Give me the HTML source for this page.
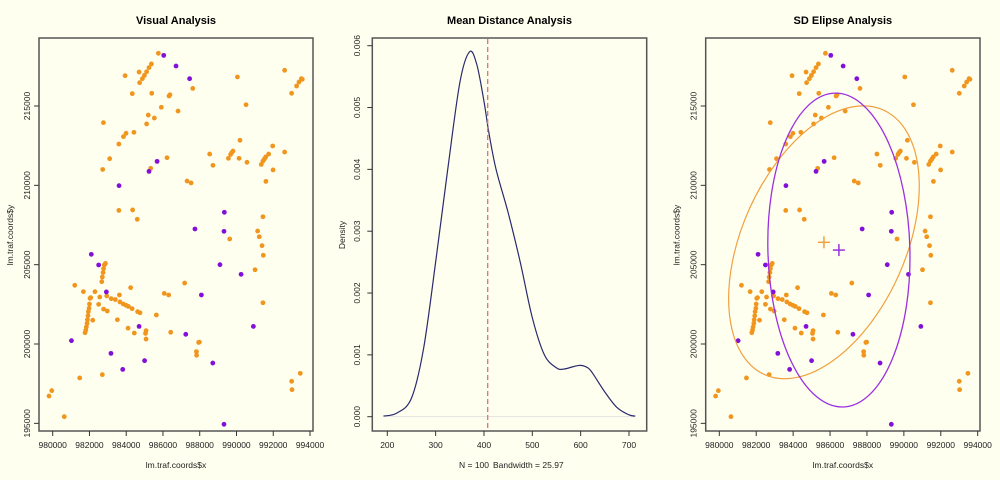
<!DOCTYPE html>
<html><head><meta charset="utf-8">
<style>
html,body{margin:0;padding:0;background:#fffff0;}
svg{display:block;font-family:"Liberation Sans",sans-serif;}
</style></head>
<body>
<svg id="chart" width="1000" height="480" viewBox="0 0 1000 480" xmlns="http://www.w3.org/2000/svg">
<rect x="0" y="0" width="1000" height="480" fill="#fffff0"/>
</svg>
<script>
// ---- data ----
const orangeX = [979.8,979.95,980.63,981.2,981.47,981.67,982.18,982.3,982.5,982.56,982.7,982.77,982.97,982.76,982.72,983.1,983.52,983.6,983.63,983.85,983.99,983.94,983.6,984.35,984.6,984.33,984.42,984.24,984.1,984.44,984.7,984.73,984.88,984.99,985.11,985.24,985.37,985.11,985.2,985.33,985.39,985.53,985.75,985.91,986.22,986.07,986.31,986.33,986.38,986.42,985.64,985.08,985.05,985.08,986.82,987.18,987.31,987.53,987.62,987.82,987.83,987.94,987.98,988.54,988.72,989.56,989.68,989.74,989.81,989.63,990.05,990.14,990.19,990.57,990.52,991.01,991.15,991.24,991.39,991.46,991.44,991.44,991.6,991.35,991.44,991.52,991.59,991.75,991.97,991.99,992.62,992.62,993.0,993.27,993.4,993.53,993.58,993.0,993.02,993.47,
982.94,983.18,983.41,983.66,983.84,983.99,984.12,984.32,984.62,984.75,
981.76,981.8,981.83,981.87,981.89,981.92,981.94,981.98,982.0,982.03,982.07,
982.67,982.7,982.74,982.77,982.81,982.87];
const orangeY = [196.72,197.06,195.42,203.7,197.86,203.3,201.5,203.3,202.5,202.96,198.07,202.2,202.08,213.95,211.0,211.68,201.53,212.6,203.09,213.07,213.28,216.91,208.42,208.45,207.86,215.78,213.34,203.55,201.0,200.69,217.14,216.47,216.72,216.93,217.16,217.42,217.65,213.87,214.43,211.07,215.8,214.24,218.32,214.92,211.74,203.19,203.09,215.63,215.71,200.74,201.83,200.84,200.67,200.31,214.68,203.84,210.27,210.15,216.11,199.52,199.29,200.1,200.12,211.97,211.26,211.7,211.95,212.06,212.16,206.62,216.83,211.7,212.84,211.45,215.08,204.68,207.12,206.76,206.2,205.59,208.02,202.6,210.25,211.32,211.53,211.66,211.79,211.97,212.48,210.97,217.25,212.1,215.8,216.26,216.51,216.72,216.68,197.65,197.12,198.15,
203.03,202.86,202.8,202.65,202.52,202.44,202.37,202.23,202.04,201.97,
200.71,200.88,201.07,201.3,201.53,201.78,202.04,202.25,202.52,202.88,202.92,
203.93,204.22,204.5,204.75,204.98,205.08];
const purpleX = [986.04,986.71,987.45,985.68,985.24,983.61,982.1,982.5,982.92,981.02,983.17,983.81,984.7,985.0,987.24,987.74,988.09,988.71,989.34,989.32,989.1,990.25,990.92,989.32];
const purpleY = [218.19,217.52,216.72,211.51,210.88,209.98,205.65,204.98,203.28,200.21,199.41,198.4,201.11,198.95,200.61,207.25,203.09,198.8,208.3,207.1,205.0,204.39,201.11,194.94];
const xTicks = [980000,982000,984000,986000,988000,990000,992000,994000];
const yTicks = [195000,200000,205000,210000,215000];
const densX = [192,220,250,275,300,325,350,370,385,400,410,425,450,475,500,525,550,565,585,600,615,625,650,675,700,713];
const densY = [0.00001,0.00006,0.0003,0.0011,0.0025,0.0040,0.0054,0.0059,0.0057,0.0051,0.0046,0.0040,0.0033,0.0025,0.0016,0.0010,0.00079,0.00077,0.00081,0.00083,0.00079,0.0007,0.0004,0.00015,0.00003,0.00001];
const densXTicks = [200,300,400,500,600,700];
const densYTicks = [0,0.001,0.002,0.003,0.004,0.005,0.006];
const meanDist = [407.7];
const centerOrange = [985670,206410];
const centerPurple = [986480,205920];

const NS="http://www.w3.org/2000/svg";
const svg=document.getElementById('chart');
function mk(tag,attrs,parent){const e=document.createElementNS(NS,tag);for(const k in attrs)e.setAttribute(k,attrs[k]);(parent||svg).appendChild(e);return e;}
function txt(s,attrs,parent){const t=mk('text',attrs,parent);t.textContent=s;return t;}

function scatterPanel(name,box,x0,xk,title,withEllipse){
  const g=mk('g',{});
  
  
  const sx=v=>x0+(v-980000)*xk;
  const sy=v=>106+(215000-v)*0.015867;
  const t=txt(title,{x:(box[0]+box[1])/2,y:24,'text-anchor':'middle','font-size':'11','font-weight':'bold',fill:'#000'},g);
  
  
  const fr=mk('rect',{x:box[0],y:38,width:box[1]-box[0],height:393,fill:'none',stroke:'#555','stroke-width':'1.5'},g);
  
  
  xTicks.forEach(v=>{const px=sx(v);mk('line',{x1:px,x2:px,y1:431,y2:436,stroke:'#333'},g);
    const l=txt(String(v),{x:px,y:448,'text-anchor':'middle','font-size':'8.5',fill:'#222'},g);
    
    });
  yTicks.forEach(v=>{const py=sy(v);mk('line',{x1:box[0],x2:box[0]-5,y1:py,y2:py,stroke:'#333'},g);
    const l=txt(String(v),{x:0,y:0,'text-anchor':'middle','font-size':'8.5',fill:'#222',transform:`translate(${box[0]-9},${py}) rotate(-90)`},g);
    
    });
  const xl=txt('lm.traf.coords$x',{x:(box[0]+box[1])/2,y:468,'text-anchor':'middle','font-size':'8.5',fill:'#222'},g);
  
  
  const yl=txt('lm.traf.coords$y',{x:0,y:0,'text-anchor':'middle','font-size':'8.5',fill:'#222',transform:`translate(${box[0]-26},235) rotate(-90)`},g);
  
  
  orangeX.forEach((v,i)=>{const c=mk('circle',{cx:sx(v*1000),cy:sy(orangeY[i]*1000),r:2.4,fill:'#f0961e'},g);
    
    });
  purpleX.forEach((v,i)=>{const c=mk('circle',{cx:sx(v*1000),cy:sy(purpleY[i]*1000),r:2.4,fill:'#8210d8'},g);
    
    });
  if(withEllipse){
    const ox=sx(centerOrange[0]),oy=sy(centerOrange[1]);
    const px=sx(centerPurple[0]),py=sy(centerPurple[1]);
    const e1=mk('ellipse',{cx:0,cy:0,rx:145,ry:81.7,fill:'none',stroke:'#f0a040','stroke-width':'1.2',transform:`translate(${ox},${oy}) rotate(-65.8)`},g);
    
    
    const e2=mk('ellipse',{cx:0,cy:0,rx:71,ry:157,fill:'none',stroke:'#9a30e0','stroke-width':'1.3',transform:`translate(${px},${py}) rotate(-1.5)`},g);
    
    
    [[ox,oy,'#f0a040','orange-center-cross'],[px,py,'#9a30e0','purple-center-cross']].forEach(c=>{
      const cg=mk('g',{stroke:c[2],'stroke-width':'1.5'},g);
      
      
      mk('line',{x1:c[0]-6,x2:c[0]+6,y1:c[1],y2:c[1]},cg);
      mk('line',{x1:c[0],x2:c[0],y1:c[1]-6,y2:c[1]+6},cg);});
  }
}
scatterPanel('visual-analysis-panel',[39,313],52.7,0.018379,'Visual Analysis',false);
scatterPanel('sd-ellipse-panel',[705.7,980],719.3,0.018457,'SD Elipse Analysis',true);

// density panel
(function(){
  const g=mk('g',{});
  
  
  const sx=v=>387.3+(v-200)*0.4834;
  const sy=v=>416.7-v*61833;
  const t=txt('Mean Distance Analysis',{x:509.5,y:24,'text-anchor':'middle','font-size':'11','font-weight':'bold',fill:'#000'},g);
  
  
  const fr=mk('rect',{x:372.3,y:38,width:274.4,height:393,fill:'none',stroke:'#555','stroke-width':'1.5'},g);
  
  
  mk('line',{x1:sx(192),x2:sx(713),y1:sy(0),y2:sy(0),stroke:'#ddd','stroke-width':'0.8'},g);
  densXTicks.forEach(v=>{const px=sx(v);mk('line',{x1:px,x2:px,y1:431,y2:436,stroke:'#333'},g);
    const l=txt(String(v),{x:px,y:448,'text-anchor':'middle','font-size':'8.5',fill:'#222'},g);
    
    });
  densYTicks.forEach(v=>{const py=sy(v);mk('line',{x1:372.3,x2:367.3,y1:py,y2:py,stroke:'#333'},g);
    const l=txt(v.toFixed(3),{x:0,y:0,'text-anchor':'middle','font-size':'8.5',fill:'#222',transform:`translate(360,${py}) rotate(-90)`},g);
    
    });
  const xl=mk('text',{y:468,'font-size':'8.5',fill:'#222'},g);
  
  
  const s1=mk('tspan',{x:459},xl); s1.textContent='N = 100';
  const s2=mk('tspan',{x:493},xl); s2.textContent='Bandwidth = 25.97';
  const yl=txt('Density',{x:0,y:0,'text-anchor':'middle','font-size':'8.5',fill:'#222',transform:'translate(345,235) rotate(-90)'},g);
  
  
  const pts=densX.map((v,i)=>[sx(v),sy(densY[i])]);
  let d=`M${pts[0][0]},${pts[0][1]}`;
  for(let i=0;i<pts.length-1;i++){const p0=pts[Math.max(0,i-1)],p1=pts[i],p2=pts[i+1],p3=pts[Math.min(pts.length-1,i+2)];
    d+=` C${p1[0]+(p2[0]-p0[0])/6},${p1[1]+(p2[1]-p0[1])/6} ${p2[0]-(p3[0]-p1[0])/6},${p2[1]-(p3[1]-p1[1])/6} ${p2[0]},${p2[1]}`;}
  const c=mk('path',{d:d,fill:'none',stroke:'#2a2a6e','stroke-width':'1.2'},g);
  
  
  const m=mk('line',{x1:sx(meanDist[0]),x2:sx(meanDist[0]),y1:39,y2:430,stroke:'#e07070','stroke-width':'1.3','stroke-dasharray':'5,3'},g);
  
  
})();
</script>
</body></html>
